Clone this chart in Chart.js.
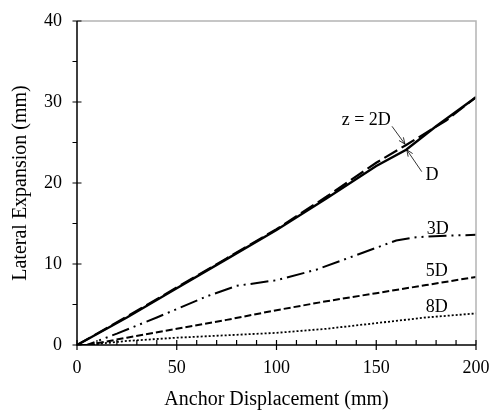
<!DOCTYPE html>
<html>
<head>
<meta charset="utf-8">
<script src="https://cdn.jsdelivr.net/npm/chart.js@4.4.1/dist/chart.umd.min.js"></script>
<style>
  html, body { margin: 0; padding: 0; background: #fff; }
  #wrap { width: 493px; height: 413px; }
</style>
</head>
<body>
<div id="wrap"><canvas id="chart"></canvas></div>
<script>
// data (mm)
const disp2D = [0, 25, 50, 75, 100, 125, 150, 165, 185, 200];
const exp2D  = [0, 3.5, 7.1, 10.7, 14.3, 18.3, 22.5, 24.7, 27.7, 30.6];

const dispD = [0, 25, 50, 75, 100, 125, 150, 165, 180, 200];
const expD  = [0, 3.4, 7.0, 10.6, 14.2, 18.1, 22.1, 24.1, 27.0, 30.6];

const disp3D = [0, 5, 20, 40, 65, 80, 100, 120, 140, 160, 170, 185, 200];
const exp3D  = [0, 0, 1.4, 3.4, 6.0, 7.3, 8.0, 9.3, 11.1, 12.9, 13.3, 13.5, 13.6];

const disp5D = [0, 5, 25, 50, 75, 100, 125, 150, 175, 200];
const exp5D  = [0, 0, 0.9, 2.0, 3.1, 4.3, 5.4, 6.4, 7.4, 8.4];

const disp8D = [0, 5, 25, 50, 75, 100, 125, 150, 175, 200];
const exp8D  = [0, 0, 0.5, 0.9, 1.2, 1.5, 2.0, 2.7, 3.4, 3.9];

const xTicks = [0, 50, 100, 150, 200];
const yTicks = [0, 10, 20, 30, 40];

// curve labels: [text, x, y]
const curveLabels = [
    ['z = 2D', 145, 27.8],
    ['D', 178, 20.9],
    ['3D', 180.8, 14.3],
    ['5D', 180.3, 9.05],
    ['8D', 180.3, 4.65]
];
// arrows: [fromX, fromY, toX, toY]
const arrows = [
    [157.9, 27.0, 164.4, 24.8],
    [172.8, 21.4, 165.3, 24.1]
];

const SERIF = '"Liberation Serif", "Times New Roman", serif';

const pts = (xs, ys) => xs.map((x, i) => ({ x: x, y: ys[i] }));

const line = (label, xs, ys, dash, width) => ({
    label: label,
    data: pts(xs, ys),
    borderColor: '#000',
    borderWidth: width,
    borderDash: dash,
    pointRadius: 0,
    fill: false,
    tension: 0
});

/*==================== FRAME + TICKS ====================*/
const framePlugin = {
    id: 'frame',
    afterDatasetsDraw(chart) {
        const ctx = chart.ctx, a = chart.chartArea;
        const xs = chart.scales.x, ys = chart.scales.y;
        ctx.save();
        // top and right border, light grey
        ctx.strokeStyle = '#b4b4b4';
        ctx.lineWidth = 1.5;
        ctx.beginPath();
        ctx.moveTo(a.left, a.top);
        ctx.lineTo(a.right, a.top);
        ctx.lineTo(a.right, a.bottom);
        ctx.stroke();
        // axes
        ctx.strokeStyle = '#000';
        ctx.lineWidth = 1.5;
        ctx.beginPath();
        ctx.moveTo(a.left, a.top);
        ctx.lineTo(a.left, a.bottom);
        ctx.lineTo(a.right, a.bottom);
        ctx.stroke();
        ctx.lineWidth = 1.2;
        ctx.beginPath();
        for (let v = 0; v <= 40; v += 5) {
            const py = ys.getPixelForValue(v);
            const major = v % 10 === 0;
            ctx.moveTo(a.left - 4.5, py);
            ctx.lineTo(major ? a.left + 4.5 : a.left, py);
        }
        for (let v = 0; v <= 200; v += 10) {
            const px = xs.getPixelForValue(v);
            const major = v % 50 === 0;
            ctx.moveTo(px, a.bottom - 5);
            ctx.lineTo(px, major ? a.bottom + 5 : a.bottom);
        }
        ctx.stroke();
        ctx.restore();
    }
};

/*==================== LABELS + ARROWS ====================*/
const labelPlugin = {
    id: 'curveLabels',
    afterDatasetsDraw(chart) {
        const ctx = chart.ctx;
        const xs = chart.scales.x, ys = chart.scales.y;
        ctx.save();
        ctx.fillStyle = '#000';
        ctx.font = '18px ' + SERIF;
        ctx.textAlign = 'center';
        ctx.textBaseline = 'middle';
        curveLabels.forEach(l => {
            ctx.fillText(l[0], xs.getPixelForValue(l[1]), ys.getPixelForValue(l[2]));
        });
        ctx.strokeStyle = '#000';
        ctx.lineWidth = 0.8;
        arrows.forEach(r => {
            const x1 = xs.getPixelForValue(r[0]), y1 = ys.getPixelForValue(r[1]);
            const x2 = xs.getPixelForValue(r[2]), y2 = ys.getPixelForValue(r[3]);
            const ang = Math.atan2(y2 - y1, x2 - x1);
            ctx.beginPath();
            ctx.moveTo(x1, y1);
            ctx.lineTo(x2, y2);
            ctx.moveTo(x2, y2);
            ctx.lineTo(x2 - 7 * Math.cos(ang - 0.4), y2 - 7 * Math.sin(ang - 0.4));
            ctx.moveTo(x2, y2);
            ctx.lineTo(x2 - 7 * Math.cos(ang + 0.4), y2 - 7 * Math.sin(ang + 0.4));
            ctx.stroke();
        });
        ctx.restore();
    }
};

const ctx = document.getElementById('chart').getContext('2d');

new Chart(ctx, {
    type: 'line',
    data: {
        datasets: [
            line('D', dispD, expD, [], 2.4),
            line('z = 2D', disp2D, exp2D, [15, 5], 2.2),
            line('3D', disp3D, exp3D, [18, 5, 2, 5, 2, 5], 2),
            line('5D', disp5D, exp5D, [7, 3], 2),
            line('8D', disp8D, exp8D, [2, 2], 1.8)
        ]
    },
    options: {
        responsive: true,
        maintainAspectRatio: false,
        animation: false,
        layout: { padding: { top: 21, right: 17, left: 0, bottom: 0 } },
        plugins: {
            legend: { display: false },
            tooltip: { enabled: false }
        },
        scales: {
            x: {
                type: 'linear',
                min: 0,
                max: 200,
                afterBuildTicks: s => { s.ticks = xTicks.map(v => ({ value: v })); },
                afterFit: s => {
                    s.height = 68;
                    s.paddingLeft = 0;
                    s.paddingRight = 0;
                },
                ticks: {
                    color: '#000',
                    font: { family: SERIF, size: 18 },
                    padding: 12,
                    maxRotation: 0
                },
                grid: { display: false, drawTicks: false },
                border: { display: false },
                title: {
                    display: true,
                    text: 'Anchor Displacement (mm)',
                    color: '#000',
                    font: { family: SERIF, size: 20 },
                    padding: { top: 0, bottom: 1 }
                }
            },
            y: {
                min: 0,
                max: 40,
                afterBuildTicks: s => { s.ticks = yTicks.map(v => ({ value: v })); },
                afterFit: s => {
                    s.width = 77;
                    s.paddingTop = 0;
                    s.paddingBottom = 0;
                },
                ticks: {
                    color: '#000',
                    font: { family: SERIF, size: 18 },
                    padding: 15
                },
                grid: { display: false, drawTicks: false },
                border: { display: false },
                title: {
                    display: true,
                    text: 'Lateral Expansion (mm)',
                    color: '#000',
                    font: { family: SERIF, size: 20 },
                    padding: { top: 9, bottom: 0 }
                }
            }
        }
    },
    plugins: [framePlugin, labelPlugin]
});
</script>
</body>
</html>
